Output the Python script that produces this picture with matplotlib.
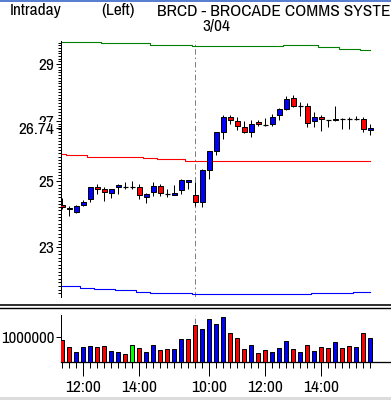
import matplotlib
matplotlib.use('Agg')
import matplotlib.pyplot as plt
from matplotlib.lines import Line2D
from matplotlib.patches import Rectangle
from matplotlib.ticker import FixedLocator, NullFormatter

FONT = ['Archivo Narrow', 'Asap Condensed', 'DejaVu Sans']
plt.rcParams['font.family'] = FONT
plt.rcParams['lines.scale_dashes'] = False

# ---------------- data (15-minute bars, two sessions) ----------------
opens = [24.28, 24.17, 24.06, 24.27, 24.44, 24.81, 24.76, 24.65, 24.81, 24.83,
         24.81, 24.84, 24.52, 24.67, 24.87, 24.62, 24.59, 24.72, 24.97,
         24.56, 24.36, 25.36, 25.98, 26.62, 27.11, 26.97, 26.77, 26.62, 26.95,
         26.84, 26.89, 27.18, 27.39, 27.77, 27.50, 27.49, 26.97, 27.11, 27.01,
         27.01, 27.07, 27.07, 27.07, 27.07, 26.67]
highs = [24.47, 24.25, 24.28, 24.42, 24.84, 24.91, 24.83, 24.76, 24.92, 24.99,
         25.02, 24.93, 24.65, 24.98, 24.91, 24.77, 24.90, 25.08, 25.06,
         24.98, 25.40, 25.98, 26.62, 27.19, 27.19, 27.12, 26.97, 27.03, 27.02,
         27.08, 27.21, 27.42, 27.85, 27.88, 27.63, 27.62, 27.28, 27.18, 27.01,
         27.49, 27.09, 27.11, 27.15, 27.11, 26.87]
lows = [24.14, 23.94, 24.03, 24.25, 24.36, 24.62, 24.39, 24.49, 24.61, 24.76,
        24.75, 24.44, 24.33, 24.55, 24.55, 24.50, 24.57, 24.62, 24.76,
        24.25, 24.21, 25.07, 25.86, 26.37, 26.89, 26.69, 26.58, 26.45, 26.80,
        26.83, 26.83, 27.03, 27.35, 27.47, 27.17, 26.77, 26.77, 26.65, 26.77,
        26.97, 26.70, 26.73, 27.01, 26.62, 26.52]
closes = [24.19, 24.14, 24.25, 24.37, 24.82, 24.75, 24.66, 24.76, 24.88, 24.83,
          24.81, 24.56, 24.62, 24.87, 24.65, 24.62, 24.65, 25.03, 25.03,
          24.37, 25.36, 25.98, 26.60, 27.11, 27.01, 26.82, 26.62, 26.90, 26.87,
          26.84, 27.14, 27.39, 27.74, 27.52, 27.50, 26.93, 27.14, 27.04, 27.01,
          27.07, 27.07, 27.07, 27.07, 26.70, 26.74]
volumes = [870000, 590000, 390000, 590000, 630000, 590000, 630000, 430000, 390000, 310000,
           670000, 550000, 390000, 670000, 470000, 510000, 510000, 910000, 910000,
           1480000, 1310000, 1710000, 1520000, 1800000, 1160000, 960000, 510000, 670000, 350000,
           470000, 390000, 550000, 830000, 510000, 390000, 670000, 430000, 590000, 550000,
           790000, 550000, 630000, 590000, 1160000, 960000]
volume_dir = ['d', 'd', 'u', 'u', 'u', 'd', 'd', 'u', 'u', 'd',
              'n', 'd', 'u', 'u', 'd', 'd', 'u', 'u', 'd',
              'd', 'u', 'u', 'u', 'u', 'd', 'd', 'd', 'u', 'd',
              'd', 'u', 'u', 'u', 'd', 'u', 'd', 'u', 'd', 'd',
              'u', 'd', 'd', 'u', 'd', 'u']
upper_band = [29.81, 29.81, 29.81, 29.81, 29.81, 29.81, 29.77, 29.77, 29.77, 29.77,
              29.77, 29.77, 29.77, 29.72, 29.72, 29.72, 29.72, 29.72, 29.72,
              29.67, 29.67, 29.67, 29.67, 29.67, 29.67, 29.69, 29.69, 29.69, 29.69,
              29.69, 29.67, 29.67, 29.70, 29.70, 29.70, 29.70, 29.70, 29.63, 29.63,
              29.63, 29.57, 29.57, 29.57, 29.51, 29.51]
middle_band = [25.88, 25.84, 25.84, 25.84, 25.80, 25.80, 25.80, 25.77, 25.77, 25.77,
               25.77, 25.77, 25.74, 25.74, 25.71, 25.71, 25.71, 25.71, 25.67,
               25.67, 25.67, 25.67, 25.67, 25.67, 25.67, 25.67, 25.67, 25.67, 25.67,
               25.67, 25.67, 25.67, 25.67, 25.67, 25.67, 25.67, 25.67, 25.67, 25.64,
               25.64, 25.64, 25.64, 25.64, 25.64, 25.64]
lower_band = [21.90, 21.90, 21.90, 21.86, 21.86, 21.82, 21.82, 21.82, 21.78, 21.78,
              21.78, 21.75, 21.75, 21.72, 21.72, 21.72, 21.70, 21.70, 21.70,
              21.67, 21.67, 21.67, 21.67, 21.67, 21.67, 21.67, 21.67, 21.67, 21.67,
              21.67, 21.67, 21.67, 21.67, 21.67, 21.67, 21.67, 21.70, 21.70, 21.70,
              21.72, 21.72, 21.72, 21.75, 21.75, 21.75]
time_labels = ['12:00', '14:00', '10:00', '12:00', '14:00']
time_label_idx = [3, 11, 21, 29, 37]
day_break_idx = 19
day_label = '3/04'
price_ticks = [23, 25, 27, 29]
last_price = 26.74
volume_ticks = [1000000]
title_parts = ['Intraday', '(Left)', 'BRCD - BROCADE COMMS SYSTEMS']

# ---------------- styling ----------------
UP, DOWN, FLAT = '#0000ff', '#ff0000', '#00ff00'
W, H = 391, 400
PX = 0.72  # one pixel in points at dpi 100
FS = 12.5

fig = plt.figure(figsize=(W / 100, H / 100), dpi=100)
fig.patch.set_facecolor('white')


def fx(px):
    return px / W


def fy(py):
    return 1 - py / H


n = len(closes)
xs = list(range(n))
XLIM = (-0.19, 46.96)

# ---------------- price panel ----------------
ax = fig.add_axes([fx(61), fy(297), fx(330), 256 / H])
ax.set_yscale('log')
ax.set_ylim(21.60, 29.86)
ax.set_xlim(*XLIM)
for s in ['top', 'right', 'bottom']:
    ax.spines[s].set_visible(False)
ax.spines['left'].set_linewidth(PX)
ax.set_xticks([])

ax.axvline(day_break_idx, color='#808080', lw=PX, linestyle=(0, (4, 2, 1.2, 2)), zorder=1)

ax.plot(xs, upper_band, color='#008000', lw=1.1 * PX, drawstyle='steps-mid', zorder=2)
ax.plot(xs, middle_band, color='#ff0000', lw=1.1 * PX, drawstyle='steps-mid', zorder=2)
ax.plot(xs, lower_band, color='#0000ff', lw=1.1 * PX, drawstyle='steps-mid', zorder=2)

ax.vlines(xs, lows, highs, color='black', lw=PX, zorder=3)
bw = 0.66
for i in xs:
    o, c = opens[i], closes[i]
    if abs(o - c) < 1e-9:
        ax.hlines(o, i - bw / 2, i + bw / 2, color='black', lw=PX * 1.2, zorder=4)
    else:
        col = UP if c > o else DOWN
        ax.bar(i, abs(c - o), bottom=min(o, c), width=bw, color=col,
               edgecolor='black', linewidth=PX, zorder=4)

ticks = price_ticks + [last_price]
labels = [str(t) for t in price_ticks] + [f'{last_price:.2f}']
ax.yaxis.set_major_locator(FixedLocator(ticks))
ax.set_yticklabels(labels)
minor = [round(21.7 + 0.1 * k, 2) for k in range(82)]
ax.yaxis.set_minor_locator(FixedLocator(minor))
ax.yaxis.set_minor_formatter(NullFormatter())
ax.tick_params(axis='y', which='major', length=5.5 * PX, width=PX, pad=1, labelsize=FS)
ax.tick_params(axis='y', which='minor', length=3 * PX, width=PX)
for lbl in ax.get_yticklabels():
    if lbl.get_text() == f'{last_price:.2f}':
        lbl.set_bbox(dict(facecolor='white', edgecolor='none', pad=0))
        lbl.set_zorder(10)

# ---------------- volume panel ----------------
axv = fig.add_axes([fx(61), fy(362), fx(330), 47 / H])
axv.set_xlim(*XLIM)
axv.set_ylim(0, 1.88e6)
for s in ['top', 'right']:
    axv.spines[s].set_visible(False)
axv.spines['left'].set_linewidth(PX)
axv.spines['bottom'].set_linewidth(1.3 * PX)
axv.axvline(day_break_idx, color='#808080', lw=PX, linestyle=(0, (4, 2, 1.2, 2)), zorder=1)
vcol = [{'u': UP, 'd': DOWN, 'n': FLAT}[d] for d in volume_dir]
axv.bar(xs, volumes, width=0.6, color=vcol, edgecolor='black', linewidth=PX, zorder=3)
axv.set_yticks(volume_ticks)
axv.set_yticklabels([str(v) for v in volume_ticks])
axv.tick_params(axis='y', length=5.5 * PX, width=PX, pad=1, labelsize=12)
axv.xaxis.set_major_locator(FixedLocator(time_label_idx))
axv.set_xticklabels(time_labels)
axv.xaxis.set_minor_locator(FixedLocator(xs))
axv.tick_params(axis='x', which='major', length=14 * PX, width=PX, pad=3, labelsize=FS)
axv.tick_params(axis='x', which='minor', length=5.5 * PX, width=PX)

# ---------------- separators, titles ----------------
for yy, lw in [(304.5, 1.6), (307.5, 1.4)]:
    fig.add_artist(Line2D([0, 1], [fy(yy), fy(yy)], transform=fig.transFigure,
                          color='black', lw=lw * PX))
fig.add_artist(Rectangle((0, 0), 1, 3 / H, transform=fig.transFigure,
                         facecolor='#dcdcdc', edgecolor='none'))
fig.add_artist(Rectangle((0, fy(1.5)), 1, 1.5 / H, transform=fig.transFigure,
                         facecolor='#5a7fd0', edgecolor='none'))

for xp, txt in zip([10, 101, 157], title_parts):
    fig.text(fx(xp), fy(11), txt, ha='left', va='center', fontsize=FS)
fig.text(fx(216), fy(27), day_label, ha='center', va='center', fontsize=FS)

fig.savefig('out.png', dpi=100, facecolor='white')
